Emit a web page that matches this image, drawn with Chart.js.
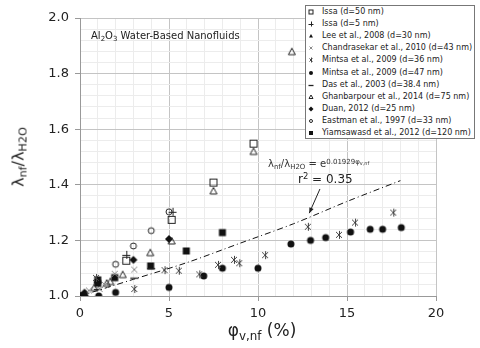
<!DOCTYPE html>
<html>
<head>
<meta charset="utf-8">
<script src="https://cdn.jsdelivr.net/npm/chart.js@4"></script>
<style>
  body { margin: 0; background: #fff; }
  #wrap { position: relative; width: 480px; height: 348px; font-family: "DejaVu Sans", Verdana, sans-serif; color: #222; }
  #chart { position: absolute; left: 0; top: 0; }
  .ov { position: absolute; white-space: nowrap; }
  sub { font-size: 70%; vertical-align: -0.3em; line-height: 0; }
  sup { font-size: 70%; vertical-align: 0.5em; line-height: 0; }
  #legend { position: absolute; left: 305px; top: 5px; width: 168px; height: 132px; border: 1px solid #777; background: #fff; font-size: 8px; }
  #legend .row { position: absolute; left: 0; width: 166px; height: 12px; line-height: 12px; white-space: nowrap; }
  #legend canvas { position: absolute; left: 1px; top: 2px; }
  #legend span { position: absolute; left: 16px; top: 0; color: #222; white-space: nowrap; }
</style>
</head>
<body>
<div id="wrap">
  <canvas id="chart" width="480" height="348"></canvas>
  <div class="ov" style="left:91px; top:30px; font-size:10px;">Al<sub>2</sub>O<sub>3</sub> Water-Based Nanofluids</div>
  <div class="ov" style="left:18px; top:157px; font-size:16px; transform:translate(-50%,-50%) rotate(-90deg);">λ<sub>nf</sub>/λ<sub>H2O</sub></div>
  <div class="ov" style="left:262px; top:330px; font-size:17px; transform:translate(-50%,-50%);">φ<sub>v,nf</sub> (%)</div>
  <div class="ov" style="left:268px; top:158px; font-size:10px; color:#333;">λ<sub>nf</sub>/λ<sub>H2O</sub> = e<sup>0.01929φ<sub>v,nf</sub></sup></div>
  <div class="ov" style="left:298px; top:172px; font-size:12px; color:#222;">r<sup>2</sup> = 0.35</div>
  <div id="legend"></div>
</div>
<script>
// data (x = phi %, y = conductivity ratio)
const issa50X = [2.6, 5.15, 7.5, 9.75];
const issa50Y = [1.127, 1.274, 1.408, 1.548];
const issa5X = [2.6, 5.2];
const issa5Y = [1.148, 1.303];
const leeX = [0, 0.1, 0.2, 0.3];
const leeY = [1.0, 1.003, 1.006, 1.01];
const chandX = [0.5, 1.1, 1.4, 1.95, 3.05];
const chandY = [1.02, 1.025, 1.04, 1.08, 1.095];
const mintsa36X = [0.9, 3.05, 4.75, 5.55, 6.7, 7.75, 8.65, 8.95, 10.4, 12.8, 14.55, 15.45, 17.6];
const mintsa36Y = [1.065, 1.025, 1.093, 1.091, 1.078, 1.112, 1.13, 1.118, 1.147, 1.249, 1.22, 1.264, 1.30];
const mintsa47X = [0, 1.05, 2.0, 5.0, 6.95, 8.0, 10.0, 11.85, 12.95, 13.8, 15.2, 16.3, 17.0, 18.05];
const mintsa47Y = [1.0, 1.0, 1.013, 1.031, 1.072, 1.10, 1.10, 1.187, 1.20, 1.21, 1.23, 1.24, 1.24, 1.246];
const dasX = [1, 3.05, 4];
const dasY = [1.025, 1.066, 1.10];
const ghanX = [0.8, 1.5, 1.7, 2.4, 3.95, 5.15, 7.5, 9.75, 11.9];
const ghanY = [1.03, 1.046, 1.052, 1.077, 1.156, 1.198, 1.378, 1.52, 1.879];
const duanX = [0.25, 1.0, 3.0, 5.0];
const duanY = [1.012, 1.048, 1.13, 1.205];
const eastX = [2.0, 3.0, 4.0, 5.0];
const eastY = [1.114, 1.18, 1.235, 1.303];
const yiamX = [0, 1.0, 1.0, 1.95, 3.97, 5.97, 8.0];
const yiamY = [1.0, 1.058, 1.045, 1.066, 1.108, 1.162, 1.228];
// fitted curve
const fitX = [0, 3, 6, 9, 12, 15, 18];
const fitY = [1.0, 1.06, 1.12, 1.19, 1.26, 1.34, 1.415];

const xTicks = [0, 5, 10, 15, 20];
const yTicks = [1.0, 1.2, 1.4, 1.6, 1.8, 2.0];

const seriesNames = [
  "Issa (d=50 nm)", "Issa (d=5 nm)", "Lee et al., 2008 (d=30 nm)",
  "Chandrasekar et al., 2010 (d=43 nm)", "Mintsa et al., 2009 (d=36 nm)",
  "Mintsa et al., 2009 (d=47 nm)", "Das et al., 2003 (d=38.4 nm)",
  "Ghanbarpour et al., 2014 (d=75 nm)", "Duan, 2012 (d=25 nm)",
  "Eastman et al., 1997 (d=33 nm)", "Yiamsawasd et al., 2012 (d=120 nm)"
];
const seriesX = [issa50X, issa5X, leeX, chandX, mintsa36X, mintsa47X, dasX, ghanX, duanX, eastX, yiamX];
const seriesY = [issa50Y, issa5Y, leeY, chandY, mintsa36Y, mintsa47Y, dasY, ghanY, duanY, eastY, yiamY];
const markers = ["openSquare", "plus", "fillTri", "xLight", "star", "fillCircle", "dash", "openTri", "fillDiamond", "openCircle", "fillSquare"];

// draws one marker symbol centred at (c, c) with half-size r
function drawMarker(ctx, type, c, r) {
  ctx.lineWidth = 1;
  ctx.strokeStyle = "#222";
  ctx.fillStyle = "#111";
  ctx.beginPath();
  switch (type) {
    case "openSquare":
      ctx.strokeRect(c - r + 0.5, c - r + 0.5, 2 * r - 1, 2 * r - 1);
      return;
    case "fillSquare":
      ctx.fillRect(c - r + 0.5, c - r + 0.5, 2 * r - 1, 2 * r - 1);
      return;
    case "plus":
      ctx.moveTo(c - r, c + 0.5); ctx.lineTo(c + r, c + 0.5);
      ctx.moveTo(c + 0.5, c - r); ctx.lineTo(c + 0.5, c + r);
      ctx.stroke();
      return;
    case "dash":
      ctx.moveTo(c - r, c + 0.5); ctx.lineTo(c + r, c + 0.5);
      ctx.lineWidth = 1.3;
      ctx.stroke();
      return;
    case "xLight":
      ctx.strokeStyle = "#8a8a8a";
      ctx.moveTo(c - r + 1, c - r + 1); ctx.lineTo(c + r - 1, c + r - 1);
      ctx.moveTo(c + r - 1, c - r + 1); ctx.lineTo(c - r + 1, c + r - 1);
      ctx.stroke();
      return;
    case "star":
      ctx.strokeStyle = "#444";
      ctx.moveTo(c - r + 1, c - r + 1); ctx.lineTo(c + r - 1, c + r - 1);
      ctx.moveTo(c + r - 1, c - r + 1); ctx.lineTo(c - r + 1, c + r - 1);
      ctx.moveTo(c + 0.5, c - r); ctx.lineTo(c + 0.5, c + r);
      ctx.stroke();
      return;
    case "fillCircle":
      ctx.arc(c, c, r - 0.5, 0, Math.PI * 2);
      ctx.fill();
      return;
    case "openCircle":
      ctx.arc(c, c, r - 1, 0, Math.PI * 2);
      ctx.stroke();
      return;
    case "fillTri":
    case "openTri":
      ctx.moveTo(c, c - r + 0.5);
      ctx.lineTo(c + r - 0.5, c + r - 1);
      ctx.lineTo(c - r + 0.5, c + r - 1);
      ctx.closePath();
      if (type === "fillTri") ctx.fill(); else ctx.stroke();
      return;
    case "fillDiamond":
      ctx.moveTo(c, c - r); ctx.lineTo(c + r, c); ctx.lineTo(c, c + r); ctx.lineTo(c - r, c);
      ctx.closePath();
      ctx.fill();
      return;
  }
}

function markerCanvas(type, size, r) {
  const cv = document.createElement("canvas");
  cv.width = size; cv.height = size;
  drawMarker(cv.getContext("2d"), type, size / 2, r);
  return cv;
}

const datasets = seriesNames.map((name, i) => ({
  label: name,
  data: seriesX[i].map((x, j) => ({ x: x, y: seriesY[i][j] })),
  pointStyle: markerCanvas(markers[i], 12, 4),
  pointRadius: 4,
  showLine: false
}));
datasets.push({
  label: "fit",
  data: fitX.map((x, j) => ({ x: x, y: fitY[j] })),
  showLine: true,
  borderColor: "#111",
  borderWidth: 1,
  borderDash: [6, 3, 1, 3],
  pointRadius: 0,
  tension: 0.3
});

// legend box
const legend = document.getElementById("legend");
seriesNames.forEach((name, i) => {
  const row = document.createElement("div");
  row.className = "row";
  row.style.top = (i * 12.1) + "px";
  row.appendChild(markerCanvas(markers[i], 8, 2.5));
  const s = document.createElement("span");
  s.textContent = name;
  row.appendChild(s);
  legend.appendChild(row);
});

const isMajor = (v, step) => Math.abs(v / step - Math.round(v / step)) < 1e-6;

// arrow from the r^2 label to the curve
const arrowPlugin = {
  id: "arrow",
  afterDatasetsDraw(chart) {
    const { ctx, scales } = chart;
    const x0 = scales.x.getPixelForValue(13.48), y0 = scales.y.getPixelForValue(1.385);
    const x1 = scales.x.getPixelForValue(12.88), y1 = scales.y.getPixelForValue(1.298);
    const a = Math.atan2(y1 - y0, x1 - x0);
    ctx.save();
    ctx.strokeStyle = "#222";
    ctx.fillStyle = "#222";
    ctx.lineWidth = 1;
    ctx.beginPath();
    ctx.moveTo(x0, y0);
    ctx.lineTo(x1, y1);
    ctx.stroke();
    ctx.beginPath();
    ctx.moveTo(x1, y1);
    ctx.lineTo(x1 - 6 * Math.cos(a - 0.4), y1 - 6 * Math.sin(a - 0.4));
    ctx.lineTo(x1 - 6 * Math.cos(a + 0.4), y1 - 6 * Math.sin(a + 0.4));
    ctx.closePath();
    ctx.fill();
    ctx.restore();
  }
};

new Chart(document.getElementById("chart"), {
  type: "scatter",
  data: { datasets },
  plugins: [arrowPlugin],
  options: {
    responsive: false,
    animation: false,
    layout: { padding: { top: 18, right: 44, left: 0, bottom: 0 } },
    plugins: { legend: { display: false }, tooltip: { enabled: false } },
    scales: {
      x: {
        type: "linear",
        min: 0, max: 20,
        afterFit: s => { s.height = 52; },
        ticks: {
          stepSize: 1, autoSkip: false, maxRotation: 0, padding: 5,
          color: "#222", font: { family: "DejaVu Sans", size: 13 },
          callback: v => (xTicks.includes(v) ? String(v) : "")
        },
        grid: {
          tickLength: 5,
          color: c => (isMajor(c.tick.value, 5) ? "#c4c4c4" : "#ececec"),
          tickColor: c => (isMajor(c.tick.value, 5) ? "#999" : "rgba(0,0,0,0)")
        },
        border: { color: "#999" }
      },
      y: {
        min: 1, max: 2,
        afterFit: s => { s.width = 80; },
        ticks: {
          stepSize: 0.04, autoSkip: false, padding: 6,
          color: "#222", font: { family: "DejaVu Sans", size: 13 },
          callback: v => (yTicks.some(t => Math.abs(t - v) < 1e-6) ? v.toFixed(1) : "")
        },
        grid: {
          tickLength: 5,
          color: c => (isMajor(c.tick.value, 0.2) ? "#c4c4c4" : "#ececec"),
          tickColor: c => (isMajor(c.tick.value, 0.2) ? "#999" : "rgba(0,0,0,0)")
        },
        border: { color: "#999" }
      }
    }
  }
});
</script>
</body>
</html>
